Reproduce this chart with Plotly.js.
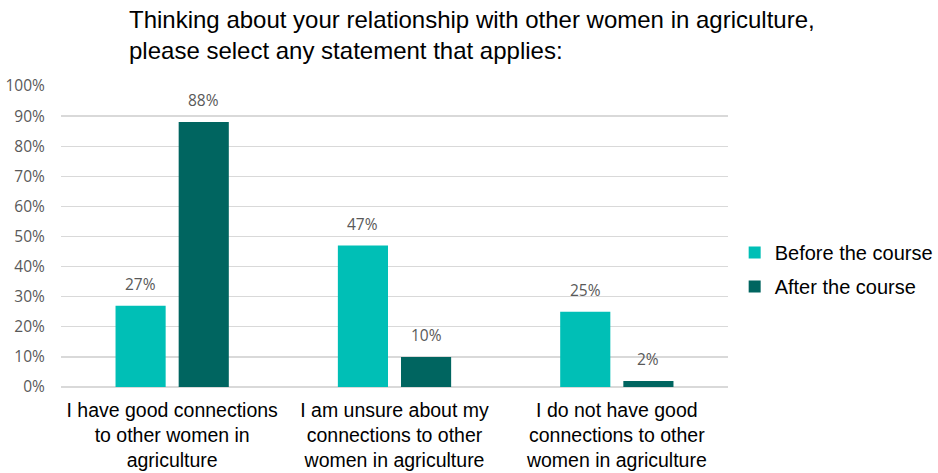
<!DOCTYPE html>
<html>
<head>
<meta charset="utf-8">
<script src="https://cdn.plot.ly/plotly-3.0.1.min.js"></script>
<style>html,body{margin:0;padding:0;background:#fff;}#chart{width:938px;height:473px;}</style>
</head>
<body>
<div id="chart"></div>
<script>
const categories = [
  "I have good connections<br>to other women in<br>agriculture",
  "I am unsure about my<br>connections to other<br>women in agriculture",
  "I do not have good<br>connections to other<br>women in agriculture"
];
const seriesNames = ["Before the course", "After the course"];
const beforeValues = [27, 47, 25];
const afterValues = [88, 10, 2];
const yTickValues = [0,10,20,30,40,50,60,70,80,90,100];
const yTickLabels = ["0%","10%","20%","30%","40%","50%","60%","70%","80%","90%","100%"];
const titleText = "Thinking about your relationship with other women in agriculture,<br>please select any statement that applies:";

const colors = ["#00BFB6", "#006560"];
const traces = [beforeValues, afterValues].map((vals, i) => ({
  type: "bar",
  name: seriesNames[i],
  legendgroup: "g" + i,
  x: categories,
  y: vals,
  marker: {color: colors[i]},
  hoverinfo: "skip"
}));

const offset = 0.284;
const annotations = [];
[beforeValues, afterValues].forEach((vals, i) => {
  vals.forEach((v, j) => {
    annotations.push({
      xref: "x", yref: "y",
      x: j + (i === 0 ? -offset/2 : offset/2),
      y: v,
      text: v + "%",
      showarrow: false,
      yanchor: "bottom",
      yshift: 9,
      font: {family: "Open Sans, sans-serif", size: 15.5, color: "#595959"}
    });
  });
});
annotations.push({
  xref: "paper", yref: "paper",
  x: (127 - 61) / 667, xanchor: "left",
  y: 1 + (86 - 4) / 301, yanchor: "top",
  align: "left",
  text: titleText,
  showarrow: false,
  font: {family: "Liberation Sans, Arial, sans-serif", size: 24, color: "#000"}
});

const layout = {
  width: 938, height: 473,
  margin: {l: 61, r: 210, t: 86, b: 86, autoexpand: false},
  paper_bgcolor: "#fff", plot_bgcolor: "#fff",
  barmode: "group",
  bargap: 0.432,
  bargroupgap: 0.206,
  xaxis: {
    type: "category",
    showgrid: false, zeroline: false,
    showline: false,
    ticks: "",
    ticklabelstandoff: 9,
    tickfont: {family: "Liberation Sans, Arial, sans-serif", size: 19.5, color: "#000"}
  },
  yaxis: {
    range: [0, 100],
    tickvals: yTickValues, ticktext: yTickLabels,
    showgrid: true, gridcolor: "#D9D9D9", gridwidth: 1.3,
    zeroline: true, zerolinecolor: "#D9D9D9", zerolinewidth: 1.3,
    ticks: "outside", ticklen: 12, tickcolor: "rgba(0,0,0,0)",
    tickfont: {family: "Open Sans, sans-serif", size: 15.5, color: "#595959"}
  },
  legend: {
    x: 1.01, xanchor: "left", y: 0.39, yanchor: "middle",
    traceorder: "grouped", tracegroupgap: 5,
    font: {family: "Liberation Sans, Arial, sans-serif", size: 20, color: "#000"},
    itemclick: false
  },
  annotations: annotations,
  showlegend: true
};

Plotly.newPlot("chart", traces, layout, {displayModeBar: false, staticPlot: true});
</script>
</body>
</html>
